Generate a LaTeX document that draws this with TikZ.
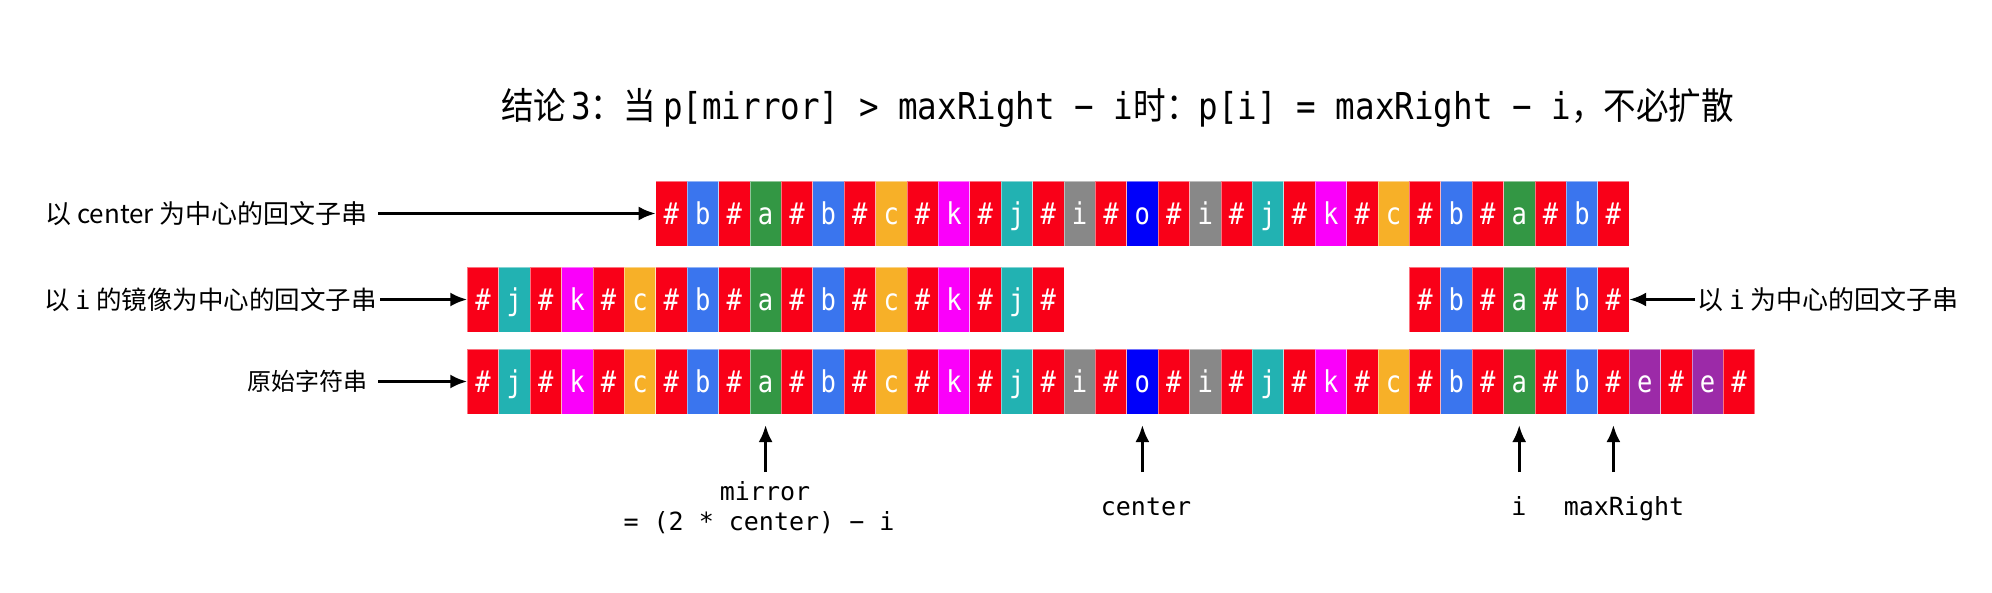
\documentclass[tikz,border=0pt]{standalone}
\usepackage{fontspec}
\usepackage{tikz}
\usetikzlibrary{arrows.meta,positioning}
\setmainfont{Noto Sans CJK SC}
\newfontfamily\cjk{Noto Sans CJK SC}
\newfontfamily\mono{DejaVu Sans Mono}
\newfontfamily\cellfont[FakeStretch=0.85]{DejaVu Sans Mono}
\newfontfamily\titlecjk[FakeStretch=0.88]{Noto Sans CJK SC}
\newfontfamily\titlemono[FakeStretch=0.88]{DejaVu Sans Mono}
\definecolor{cellh}{RGB}{249,0,24}
\definecolor{cellb}{RGB}{58,117,238}
\definecolor{cella}{RGB}{51,151,68}
\definecolor{cellc}{RGB}{247,176,40}
\definecolor{cellk}{RGB}{250,0,250}
\definecolor{cellj}{RGB}{34,178,178}
\definecolor{celli}{RGB}{136,136,136}
\definecolor{cello}{RGB}{0,0,250}
\definecolor{celle}{RGB}{156,42,168}
\newcommand{\cellglyph}[1]{\if h#1\#\else#1\fi}

\begin{document}
\begin{tikzpicture}[x=1pt,y=-1pt]

    \tikzstyle{every edge}=[-{Latex[length=17pt,width=14pt]},draw,line width=3pt]
    \tikzstyle{cell}=[draw=white,draw opacity=0.45,line width=0.8pt,text=white,minimum width=31.4pt,minimum height=65pt,inner sep=0pt,outer sep=0pt,font=\cellfont\fontsize{30}{30}\selectfont,text height=22pt,text depth=0pt]
    \tikzstyle{sidetext}=[inner sep=0pt,font=\cjk\fontsize{26}{26}\selectfont]
    \tikzstyle{monotext}=[inner sep=0pt,font=\mono\fontsize{25}{25}\selectfont]

    \useasboundingbox (0,0) rectangle (1992,592);

    \node[inner sep=0pt,font=\fontsize{37}{37}\selectfont] (title) at (1117.5,108) {\titlecjk 结论\hspace{5pt}{\titlemono 3}：当 {\titlemono p[mirror] > maxRight − i}时：{\titlemono p[i] = maxRight − i}，不必扩散};

    % palindrome around center
    \foreach \ch [count=\k from 6] in {h,b,h,a,h,b,h,c,h,k,h,j,h,i,h,o,h,i,h,j,h,k,h,c,h,b,h,a,h,b,h}
        \node[cell,fill=cell\ch] (cen\k) at ({467.3+(\k+0.5)*31.4},213.5) {\cellglyph{\ch}};
    % palindrome around mirror of i
    \foreach \ch [count=\k from 0] in {h,j,h,k,h,c,h,b,h,a,h,b,h,c,h,k,h,j,h}
        \node[cell,fill=cell\ch] (mir\k) at ({467.3+(\k+0.5)*31.4},299.5) {\cellglyph{\ch}};
    % palindrome around i
    \foreach \ch [count=\k from 30] in {h,b,h,a,h,b,h}
        \node[cell,fill=cell\ch] (ipal\k) at ({467.3+(\k+0.5)*31.4},299.5) {\cellglyph{\ch}};
    % original string
    \foreach \ch [count=\k from 0] in {h,j,h,k,h,c,h,b,h,a,h,b,h,c,h,k,h,j,h,i,h,o,h,i,h,j,h,k,h,c,h,b,h,a,h,b,h,e,h,e,h}
        \node[cell,fill=cell\ch] (orig\k) at ({467.3+(\k+0.5)*31.4},381.5) {\cellglyph{\ch}};

    \node[sidetext,anchor=east] (cenlbl) at (368,213.5) {以\hspace{6pt}center 为中心的回文子串};
    \node[sidetext,anchor=east,font=\cjk\fontsize{25.5}{25.5}\selectfont] (mirlbl) at (377,299.5) {以 {\mono i} 的镜像为中心的回文子串};
    \node[sidetext,anchor=east,font=\cjk\fontsize{24}{24}\selectfont] (origlbl) at (368,381.5) {原始字符串};
    \node[sidetext,anchor=west] (ilbl) at (1697,299.5) {以 {\mono i} 为中心的回文子串};

    \path (cenlbl) edge[shorten <=10pt] (cen6);
    \path (mirlbl) edge[shorten <=3pt] (mir0);
    \path (origlbl) edge[shorten <=10pt] (orig0);
    \path (ilbl) edge[shorten <=2pt] (ipal36);

    \node[monotext,anchor=base] (mirrorlbl) at (765,500) {mirror};
    \node[monotext,anchor=base] (formulalbl) at (759,530) {= (2 * center) − i};
    \node[monotext,anchor=base] (centerlbl) at (1146,515) {center};
    \node[monotext,anchor=base] (ilabel) at (1519,515) {i};
    \node[monotext,anchor=base] (maxlbl) at (1624,515) {maxRight};

    \coordinate (mirrortail) at (orig9 |- 0,472);
    \coordinate (centertail) at (orig21 |- 0,472);
    \coordinate (itail) at (orig33 |- 0,472);
    \coordinate (maxtail) at (orig36 |- 0,472);
    \path (mirrortail) edge[shorten >=11pt] (orig9);
    \path (centertail) edge[shorten >=11pt] (orig21);
    \path (itail) edge[shorten >=11pt] (orig33);
    \path (maxtail) edge[shorten >=11pt] (orig36);

\end{tikzpicture}
\end{document}
